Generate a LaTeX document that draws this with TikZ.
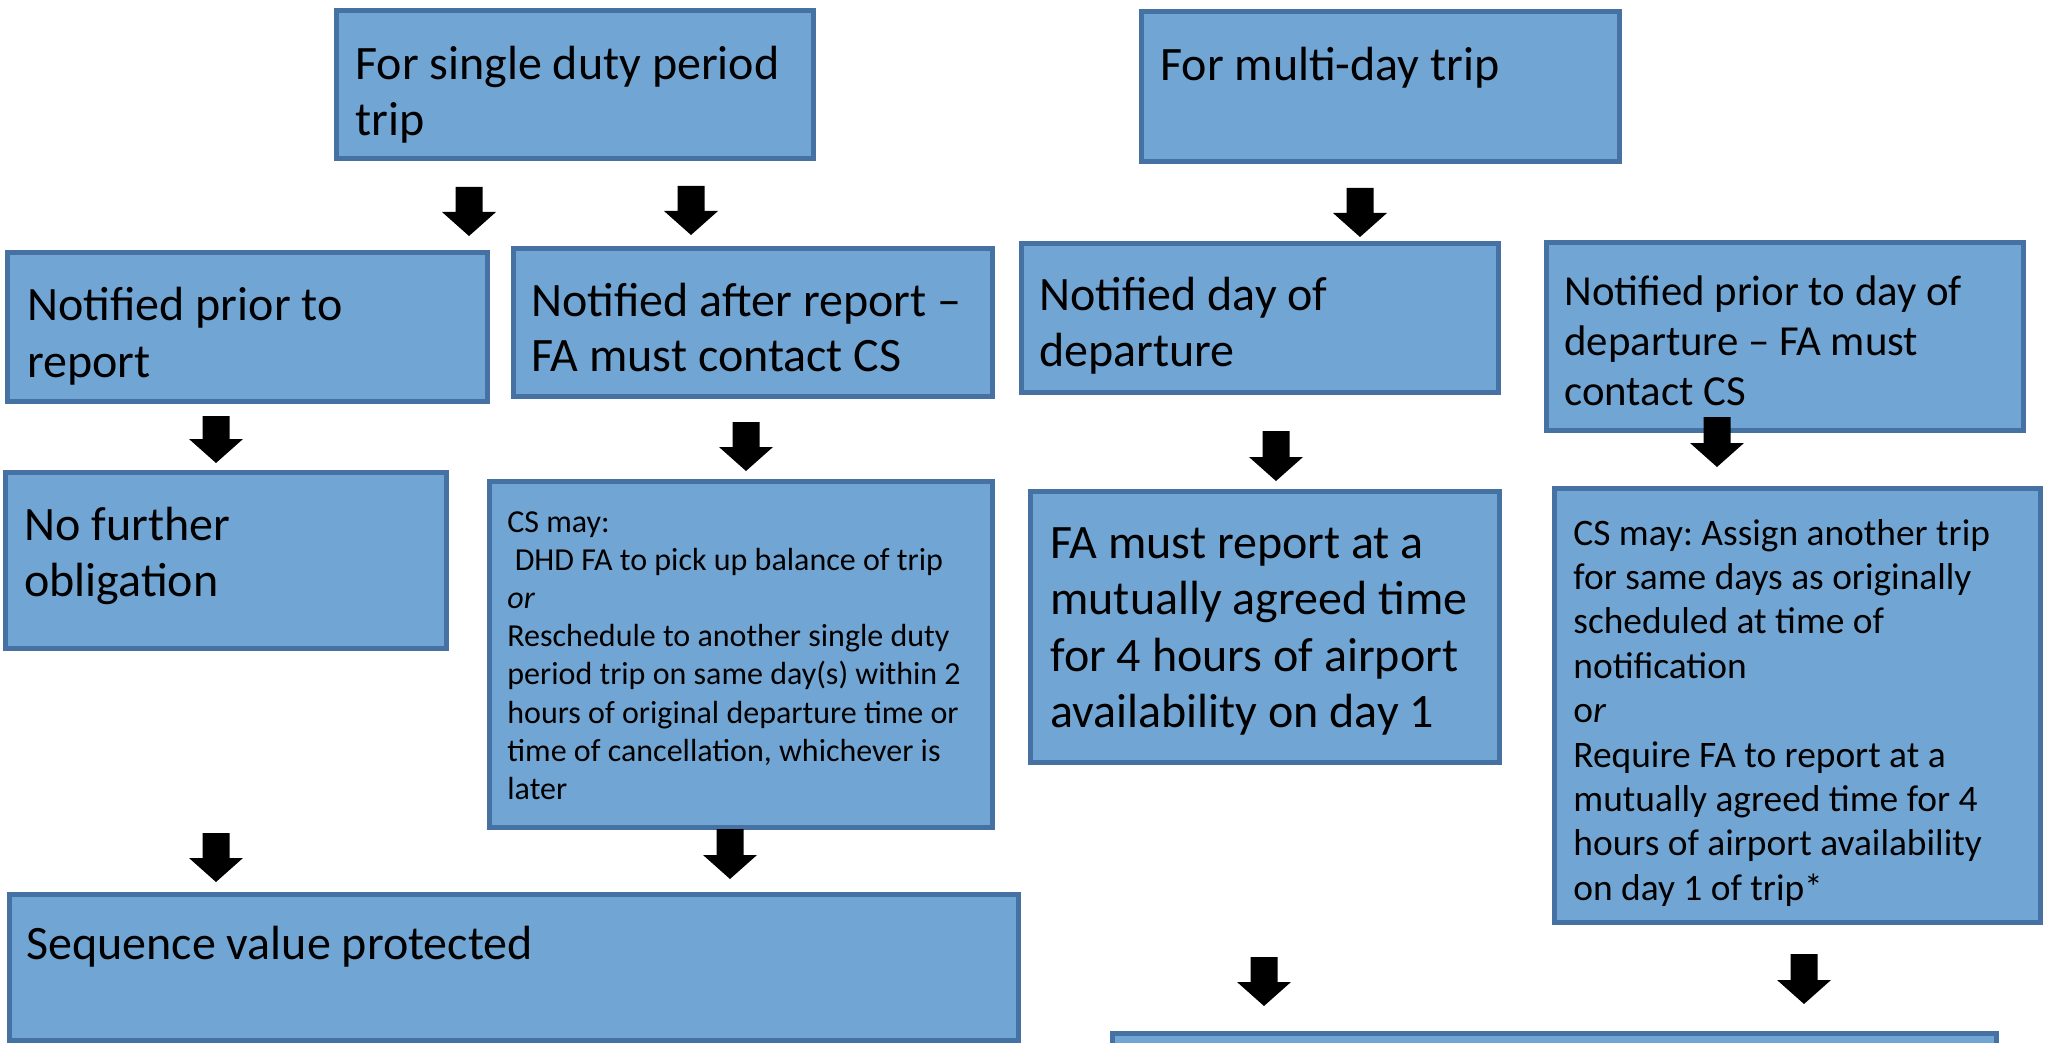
\documentclass[tikz,border=0pt]{standalone}
\usepackage{fontspec}
\setmainfont{Carlito}
\frenchspacing
\definecolor{boxfill}{RGB}{113,165,211}
\definecolor{boxline}{RGB}{69,114,162}
\newcommand\fsz[2]{\fontsize{#1}{#2}\selectfont}
\newcommand\bx[5]{\node[bx, minimum width=#4*0.5pt, minimum height=#5*0.5pt] (#1) at (#2,#3) {};}
\newcommand\barr[3]{\fill[barrow] (#1-13.5,#2) -- (#1+13.5,#2) -- (#1+13.5,#3-24) -- (#1+27,#3-24) -- (#1,#3) -- (#1-27,#3-24) -- (#1-13.5,#3-24) -- cycle;}
\begin{document}
\begin{tikzpicture}[x=0.5pt,y=-0.5pt,
  bx/.style={draw=boxline, fill=boxfill, line width=2.5pt, inner sep=0pt, rectangle},
  txt/.style={anchor=base west, inner sep=0pt, text=black},
  barrow/.style={fill=black}]
\useasboundingbox (0,0) rectangle (2045,1043);
\clip (0,0) rectangle (2045,1043);
% boxes
\bx{b1}{575}{84.5}{477}{148}
\bx{b2}{1380.5}{86.5}{478}{150}
\bx{b3}{247.5}{327}{480}{149}
\bx{b4}{753}{322.5}{479}{148}
\bx{b5}{1260}{318}{477}{149}
\bx{b6}{1785}{336.5}{477}{188}
\bx{b7}{226}{560.5}{441}{176}
\bx{b8}{741}{654.5}{503}{346}
\bx{b9}{514}{967.5}{1009}{146}
\bx{b10}{1265}{627}{469}{271}
\bx{b11}{1797.5}{705.5}{486}{434}
\bx{b12}{1554.5}{1075.5}{884}{84}
% texts
\node[txt] (t1) at (355,80) {\parbox[t]{460pt}{\fsz{24pt}{28pt}For single duty period\\trip}};
\node[txt] (t2) at (1160,81) {\parbox[t]{460pt}{\fsz{24pt}{28pt}For multi-day trip}};
\node[txt] (t3) at (27,321) {\parbox[t]{460pt}{\fsz{24pt}{28.2pt}Notified prior to\\report}};
\node[txt] (t4) at (531,316) {\parbox[t]{460pt}{\fsz{24pt}{28pt}Notified after report –\\FA must contact CS}};
\node[txt] (t5) at (1039,311) {\parbox[t]{460pt}{\fsz{24pt}{28pt}Notified day of\\departure}};
\node[txt] (t6) at (1564,306) {\parbox[t]{460pt}{\fsz{21.4pt}{25pt}Notified prior to day of\\departure – FA must\\contact CS}};
\node[txt] (t7) at (24,540) {\parbox[t]{460pt}{\fsz{24pt}{28pt}No further\\obligation}};
\node[txt] (t8) at (507,532) {\parbox[t]{460pt}{\fsz{16pt}{19.1pt}CS may:\\\hspace*{0.23em}DHD FA to pick up balance of trip\\\textit{or}\\Reschedule to another single duty\\period trip on same day(s) within 2\\hours of original departure time or\\time of cancellation, whichever is\\later}};
\node[txt] (t9) at (26,959) {\parbox[t]{460pt}{\fsz{24pt}{28pt}Sequence value protected}};
\node[txt] (t10) at (1050,558) {\parbox[t]{460pt}{\fsz{24pt}{28.25pt}FA must report at a\\mutually agreed time\\for 4 hours of airport\\availability on day 1}};
\node[txt] (t11) at (1573,545) {\parbox[t]{460pt}{\fsz{18.7pt}{22.2pt}CS may: Assign another trip\\for same days as originally\\scheduled at time of\\notification\\o\textit{r}\\Require FA to report at a\\mutually agreed time for 4\\hours of airport availability\\on day 1 of trip*}};
% block arrows
\barr{469}{187}{236}
\barr{691}{186}{235}
\barr{216}{416}{463}
\barr{746}{422}{471}
\barr{1360}{188}{237}
\barr{1276}{431}{481}
\barr{1717}{417}{467}
\barr{216}{833}{882}
\barr{730}{829}{879}
\barr{1264}{957}{1006}
\barr{1804}{954}{1004}
\end{tikzpicture}
\end{document}
